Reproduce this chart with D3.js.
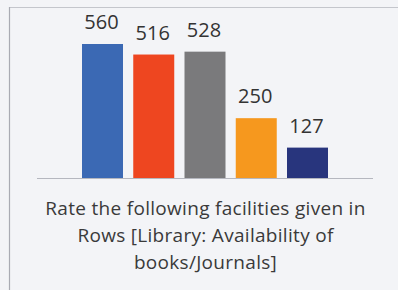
<!DOCTYPE html>
<html>
<head>
<meta charset="utf-8">
<script src="https://cdn.jsdelivr.net/npm/d3@7"></script>
<style>
  html, body { margin: 0; padding: 0; background: #f3f4f7; }
  svg { display: block; }
</style>
</head>
<body>
<div id="chart"></div>
<script>
// one bar per rating answer
var ratings = ["Rating 1", "Rating 2", "Rating 3", "Rating 4", "Rating 5"];
var counts = [560, 516, 528, 250, 127];
var colors = ["#3b69b4", "#ee4620", "#7a7a7c", "#f6981e", "#28357d"];
var titleLines = ["Rate the following facilities given in",
                  "Rows [Library: Availability of",
                  "books/Journals]"];

var width = 398, height = 290;
var baseY = 178;

var svg = d3.select("#chart").append("svg")
  .attr("width", width)
  .attr("height", height);

// frame (only top and left edges show in the scan)
svg.append("line")
  .attr("x1", 9).attr("x2", width).attr("y1", 7.5).attr("y2", 7.5)
  .style("stroke", "#c4c6cc").style("stroke-width", 1);
svg.append("line")
  .attr("x1", 9.5).attr("x2", 9.5).attr("y1", 7).attr("y2", height)
  .style("stroke", "#a9abb3").style("stroke-width", 1.2);

var x = d3.scaleBand()
  .domain(ratings)
  .range([82, 328])
  .paddingInner(0.2)
  .paddingOuter(0);

var y = d3.scaleLinear()
  .domain([0, 560])
  .range([baseY, 44]);

// baseline
svg.append("line")
  .attr("x1", 37).attr("x2", 373)
  .attr("y1", baseY + 0.5).attr("y2", baseY + 0.5)
  .style("stroke", "#b5b7bf").style("stroke-width", 1.2);

svg.selectAll("rect.bar")
  .data(counts)
  .enter()
  .append("rect")
  .attr("class", "bar")
  .attr("x", function (d, i) { return x(ratings[i]); })
  .attr("y", function (d) { return y(d); })
  .attr("width", x.bandwidth())
  .attr("height", function (d) { return baseY - y(d); })
  .style("fill", function (d, i) { return colors[i]; });

svg.selectAll("text.val")
  .data(counts)
  .enter()
  .append("text")
  .attr("class", "val")
  .attr("x", function (d, i) { return x(ratings[i]) + x.bandwidth() / 2 - 1; })
  .attr("y", function (d) { return y(d) - 15; })
  .attr("text-anchor", "middle")
  .style("font-family", "'Open Sans', sans-serif")
  .style("font-size", "20px")
  .style("fill", "#333")
  .text(function (d) { return d; });

svg.selectAll("text.title")
  .data(titleLines)
  .enter()
  .append("text")
  .attr("class", "title")
  .attr("x", 205.5)
  .attr("y", function (d, i) { return 215 + i * 27; })
  .attr("text-anchor", "middle")
  .style("font-family", "'Open Sans', sans-serif")
  .style("font-size", "19px")
  .style("letter-spacing", "0.3px")
  .style("fill", "#3a3a3a")
  .text(function (d) { return d; });
</script>
</body>
</html>
